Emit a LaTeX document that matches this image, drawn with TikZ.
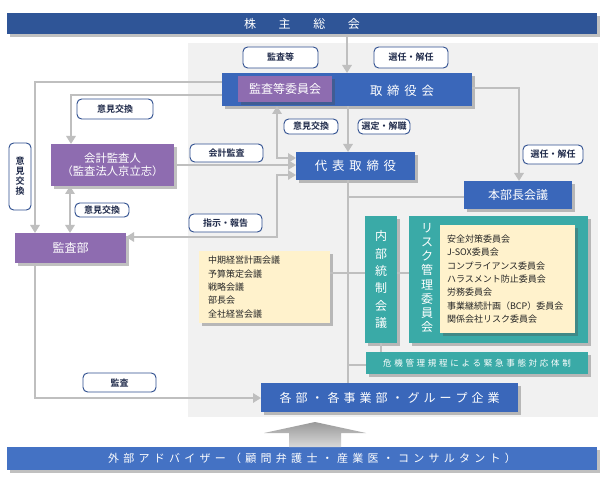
\documentclass[tikz,border=0pt]{standalone}
\usepackage{fontspec}
\setmainfont{Noto Sans CJK JP}[BoldFont={Noto Sans CJK JP Bold}]
\usetikzlibrary{arrows.meta,shadows}
\definecolor{banner}{HTML}{2F5597}
\definecolor{bluebox}{HTML}{3A67BA}
\definecolor{bottomblue}{HTML}{4472C4}
\definecolor{purp}{HTML}{8E6CB0}
\definecolor{tealbox}{HTML}{3AAAA7}
\definecolor{cream}{HTML}{FFF2CC}
\definecolor{linegray}{HTML}{BFBFBF}
\definecolor{bggray}{HTML}{F1F1F1}
\definecolor{navy}{HTML}{2F4F8F}
\definecolor{labeltext}{HTML}{1F2A4A}
\makeatletter
\def\lsp#1#2{\begingroup\def\lsp@amt{#1}\lsp@first#2\relax\endgroup}
\def\lsp@first#1{#1\lsp@loop}
\def\lsp@loop#1{\ifx\relax#1\else\kern\lsp@amt\relax#1\expandafter\lsp@loop\fi}
\makeatother
\newcommand\rbox[7]{\node[#1,minimum width={(#5-#3)*0.75pt},minimum height={(#6-#4)*0.75pt}] (#2) at ({(#3+#5)/2},{(#4+#6)/2}) {#7};}
\tikzset{
  shadowed/.style={drop shadow={shadow xshift=2pt,shadow yshift=-2pt,opacity=0.35,fill=black!70}},
  boxbase/.style={inner sep=0pt,outer sep=0pt,shadowed,text=white,font=\fontsize{9}{10}\selectfont},
  bluebx/.style={boxbase,fill=bluebox},
  purpbx/.style={boxbase,fill=purp},
  tealbx/.style={boxbase,fill=tealbox},
  creambx/.style={inner sep=0pt,outer sep=0pt,shadowed,fill=cream,text=black!85,font=\fontsize{6.75}{10}\selectfont},
  lbl/.style={draw=navy,line width=0.7pt,rounded corners=3.5pt,fill=white,inner sep=0pt,outer sep=0pt,font=\fontsize{6.75}{7.5}\selectfont\bfseries,text=labeltext},
  plain/.style={inner sep=0pt,outer sep=0pt,text=white},
  conn/.style={draw=linegray,line width=2.2pt},
  arr/.style={conn,-{Triangle[length=6pt,width=7pt]}},
  darr/.style={conn,{Triangle[length=6pt,width=7pt]}-{Triangle[length=6pt,width=7pt]}},
}
\begin{document}
\begin{tikzpicture}[x=0.75pt,y=-0.75pt]
\useasboundingbox (0,0) rectangle (605,491);
\fill[white] (0,0) rectangle (605,491);
\fill[bggray] (188,43) rectangle (598,417);

% banners
\rbox{boxbase,fill=banner}{sh}{7}{13}{597}{34}{\lsp{17pt}{株主総会}}
\rbox{boxbase,fill=bottomblue,font=\fontsize{8.25}{9}\selectfont}{adv}{7}{447}{597}{470}{\kern15pt\lsp{3.2pt}{外部アドバイザー（顧問弁護士・産業医・コンサルタント）}}

% main boxes
\rbox{bluebx}{bod}{222}{73}{472}{106}{}
\node[plain,font=\fontsize{9.3}{10}\selectfont] (bodtxt) at (402,91) {\lsp{3.6pt}{取締役会}};
\rbox{purpbx}{ac}{238}{76}{332}{102}{監査等委員会}
\rbox{bluebx,font=\fontsize{9.3}{10}\selectfont}{rep}{296}{152}{415}{180}{\lsp{3.6pt}{代表取締役}}
\rbox{bluebx}{hb}{464}{181}{572}{209}{本部長会議}
\rbox{purpbx,align=center,font=\fontsize{8.5}{10}\selectfont}{ka}{51}{144}{174}{186}{会計監査人\\（監査法人京立志）}
\rbox{purpbx}{au}{15}{233}{126}{263}{監査部}
\rbox{bluebx,font=\fontsize{9}{10}\selectfont}{kb}{261}{383}{518}{412}{\lsp{3pt}{各部・各事業部・グループ企業}}

% cream meetings box
\node[creambx,align=left,text width={(131-18)*0.75pt},inner xsep={9*0.75pt},minimum height={72*0.75pt}] (cr) at (264.5,287) {中期経営計画会議\\予算策定会議\\戦略会議\\部長会\\全社経営会議};

% internal control & risk
\rbox{tealbx,align=center,font=\fontsize{9}{13}\selectfont}{ic}{365}{216}{397}{343}{内\\部\\統\\制\\会\\議}
\rbox{tealbx}{rk}{409}{216}{588}{343}{}
\node[plain,align=center,font=\fontsize{9}{10.6}\selectfont] (rktxt) at (427,278) {リ\\ス\\ク\\管\\理\\委\\員\\会};
\node[creambx,align=left,text width={(135-14)*0.75pt},inner xsep={7*0.75pt},minimum height={108*0.75pt}] (rl) at (507.5,279) {安全対策委員会\\J-SOX委員会\\コンプライアンス委員会\\ハラスメント防止委員会\\労務委員会\\事業継続計画（BCP）委員会\\関係会社リスク委員会};
\rbox{tealbx,font=\fontsize{6.4}{7}\selectfont}{km}{366}{352}{588}{374}{\lsp{2pt}{危機管理規程による緊急事態対応体制}}

% labels
\rbox{lbl}{l1}{243}{47}{318}{68}{監査等}
\rbox{lbl}{l2}{374}{47}{448}{68}{選任・解任}
\rbox{lbl}{l3}{77}{99}{153}{119}{意見交換}
\rbox{lbl,align=center}{l4}{9}{143}{31}{210}{意\\見\\交\\換}
\rbox{lbl}{l5}{190}{144}{263}{162}{会計監査}
\rbox{lbl}{l6}{284}{119}{338}{134}{意見交換}
\rbox{lbl}{l7}{358}{119}{410}{134}{選定・解職}
\rbox{lbl}{l8}{523}{145}{583}{164}{選任・解任}
\rbox{lbl}{l9}{75}{203}{129}{217}{意見交換}
\rbox{lbl}{l10}{189}{214}{262}{232}{指示・報告}
\rbox{lbl}{l11}{83}{373}{156}{392}{監査}

% bend coordinates
\coordinate (p1) at (35,82);
\coordinate (p2) at (71,95);
\coordinate (p3) at (70,0);
\coordinate (p5) at (277,237);
\coordinate (p5b) at (277,175);
\coordinate (p7) at (277,158);
\coordinate (p8) at (348,0);
\coordinate (p9) at (519,88);
\coordinate (p10) at (348,197);
\coordinate (p11) at (0,273);
\coordinate (p13) at (0,365);
\coordinate (p12) at (35,398);

% connectors
\draw[arr] (sh.south -| bod.north) -- (bod.north);
\draw[arr] (bod.west |- p1) -- (p1) -- (p1 |- au.north);
\draw[arr] (bod.west |- p2) -- (p2) -- (p2 |- ka.north);
\draw[darr] (ka.south -| p3) -- (au.north -| p3);
\draw[arr] (ka.east) -- (rep.west |- ka.east);
\draw[darr] (au.east |- p5) -- (p5) -- (p5b) -- (rep.west |- p5b);
\draw[darr] (bod.south -| p7) -- (p7) -- (rep.west |- p7);
\draw[arr] (bod.south -| p8) -- (rep.north -| p8);
\draw[arr] (bod.east |- p9) -- (p9) -- (p9 |- hb.north);
\draw[conn] (rep.south -| p8) -- (kb.north -| p8);
\draw[conn] (p10) -- (hb.west |- p10);
\draw[conn] (cr.east |- p11) -- (ic.west |- p11);
\draw[conn] (ic.east |- p11) -- (rk.west |- p11);
\draw[conn] (p8 |- p13) -- (km.west |- p13);
\draw[conn] (ic.south) -- (km.north -| ic.south);
\draw[arr] (au.south -| p12) -- (p12) -- (kb.west |- p12);

% big upward arrow
\shade[top color=black!40,bottom color=black!15] (315,422) -- (366,433) -- (341,433) -- (341,447) -- (289,447) -- (289,433) -- (264,433) -- cycle;
\end{tikzpicture}
\end{document}
